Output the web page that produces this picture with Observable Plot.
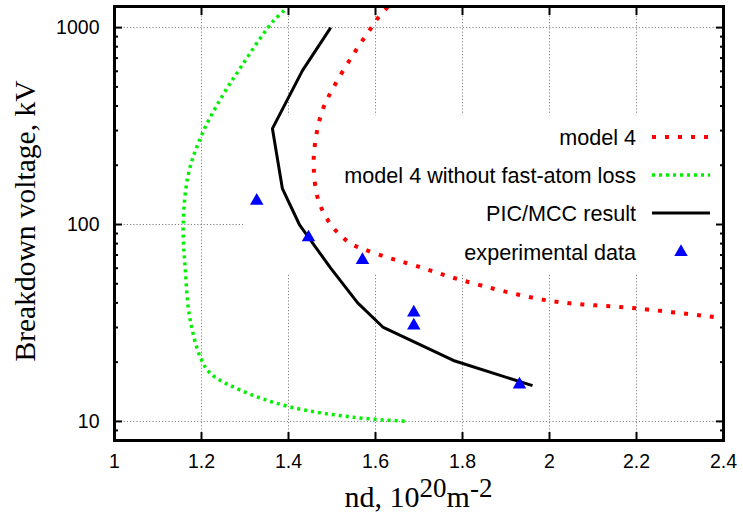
<!DOCTYPE html>
<html>
<head>
<meta charset="utf-8">
<script src="https://cdn.jsdelivr.net/npm/d3@7"></script>
<script src="https://cdn.jsdelivr.net/npm/@observablehq/plot@0.6"></script>
<style>
  html, body { margin: 0; padding: 0; background: #fff; }
  svg { display: block; }
</style>
</head>
<body>
<div id="chart"></div>
<script>
// ---- tick values / labels ----
const xTickValues = [1, 1.2, 1.4, 1.6, 1.8, 2, 2.2, 2.4];
const xTickLabels = ["1", "1.2", "1.4", "1.6", "1.8", "2", "2.2", "2.4"];
const xGridValues = [1.2, 1.4, 1.6, 1.8, 2, 2.2];
const yTickValues = [10, 100, 1000];
const yTickLabels = ["10", "100", "1000"];
const yMinorTicks = [8, 9, 20, 30, 40, 50, 60, 70, 80, 90, 200, 300, 400, 500, 600, 700, 800, 900];

// ---- series: model 4 (red dotted) ----
const model4X = [1.628, 1.607, 1.589, 1.547, 1.504, 1.478, 1.462, 1.458, 1.469, 1.497, 1.52, 1.543, 1.572, 1.628, 1.69, 1.80, 2.0, 2.2, 2.4];
const model4Y = [1270, 1130, 990, 720, 500, 380, 267, 194, 132, 100, 88, 80, 75, 68, 62, 52, 41, 37.5, 33.5];

// ---- series: model 4 without fast-atom loss (green dotted) ----
const noLossX = [1.39, 1.366, 1.336, 1.29, 1.251, 1.202, 1.170, 1.158, 1.163, 1.173, 1.198, 1.221, 1.29, 1.40, 1.549, 1.675];
const noLossY = [1220, 1086, 889, 627, 462, 290, 181, 100, 58, 33.7, 21, 17.5, 14.4, 11.9, 10.5, 10.0];

// ---- series: PIC/MCC result (black solid) ----
const picX = [1.497, 1.432, 1.363, 1.386, 1.425, 1.497, 1.559, 1.618, 1.779, 1.961];
const picY = [1000, 605, 307, 152, 100, 60, 40, 30, 20.4, 15.2];

// ---- series: experimental data (blue triangles) ----
const expX = [1.327, 1.446, 1.570, 1.688, 1.688, 1.931];
const expY = [132, 86, 66, 35.7, 30.7, 15.4];

// ---- legend ----
const legendLabels = ["model 4", "model 4 without fast-atom loss", "PIC/MCC result", "experimental data"];
const legendBox = {x1: 1.297, x2: 2.4, y1: 56.4, y2: 357};

const zip = (xs, ys) => xs.map((x, i) => ({x, y: ys[i]}));
const model4 = zip(model4X, model4Y);
const noLoss = zip(noLossX, noLossY);
const pic = zip(picX, picY);
const exp = zip(expX, expY);

const W = 743, H = 516;
const mL = 114, mR = 20, mT = 6, mB = 76;
const sans = "'Liberation Sans', Arial, Helvetica, sans-serif";
const serif = "'Liberation Serif', 'Times New Roman', serif";
const RED = "#ff0000", GREEN = "#00f000", BLUE = "#0000ff";

const gridStyle = {stroke: "#808080", strokeOpacity: 1, strokeWidth: 1, strokeDasharray: "1.2,2"};
const noText = {tickFormat: () => "", label: null, stroke: "black", strokeWidth: 2};

const plot = Plot.plot({
  width: W, height: H,
  marginLeft: mL, marginRight: mR, marginTop: mT, marginBottom: mB,
  style: {fontFamily: sans, fontSize: "19.5px", background: "white", color: "black"},
  x: {domain: [1, 2.4]},
  y: {type: "log", domain: [8.0, 1280]},
  marks: [
    Plot.gridX(xGridValues, gridStyle),
    Plot.gridY(yTickValues, gridStyle),
    Plot.rect([legendBox], {x1: "x1", x2: "x2", y1: "y1", y2: "y2", fill: "white"}),
    Plot.line(noLoss, {x: "x", y: "y", stroke: GREEN, strokeWidth: 3.5, strokeDasharray: "3,4", strokeLinecap: "butt", curve: "catmull-rom"}),
    Plot.line(model4, {x: "x", y: "y", stroke: RED, strokeWidth: 4, strokeDasharray: "4,9", strokeLinecap: "butt", curve: "catmull-rom"}),
    Plot.line(pic, {x: "x", y: "y", stroke: "black", strokeWidth: 3, strokeLinejoin: "miter", strokeLinecap: "butt"}),
    Plot.dot(exp, {x: "x", y: "y", symbol: "triangle", fill: BLUE, stroke: "none", r: 5}),
    // tick labels
    Plot.axisX(xTickValues, {anchor: "bottom", tickSize: 0, tickPadding: 14, label: null,
      tickFormat: d => xTickLabels[xTickValues.indexOf(d)]}),
    Plot.axisY(yTickValues, {anchor: "left", tickSize: 0, tickPadding: 15, label: null,
      tickFormat: d => yTickLabels[yTickValues.indexOf(d)]}),
    // inward ticks
    Plot.axisX(xTickValues, {anchor: "bottom", tickSize: -8, ...noText}),
    Plot.axisX(xTickValues, {anchor: "top", tickSize: -8, ...noText}),
    Plot.axisY(yTickValues, {anchor: "left", tickSize: -8, ...noText}),
    Plot.axisY(yTickValues, {anchor: "right", tickSize: -8, ...noText}),
    Plot.axisY(yMinorTicks, {anchor: "left", tickSize: -4, ...noText}),
    Plot.axisY(yMinorTicks, {anchor: "right", tickSize: -4, ...noText}),
    Plot.frame({stroke: "black", strokeWidth: 3})
  ]
});

document.getElementById("chart").appendChild(plot);

// ---- titles and legend (positioned relative to the frame) ----
const svg = d3.select(plot);
const frameRight = W - mR;

// y-axis title
svg.append("text")
  .attr("transform", `translate(35,${221}) rotate(-90)`)
  .attr("text-anchor", "middle")
  .style("font-family", serif).style("font-size", "29.5px").attr("fill", "black")
  .text("Breakdown voltage, kV");

// x-axis title with superscripts
const xt = svg.append("text")
  .attr("x", (mL + frameRight) / 2).attr("y", 507)
  .attr("text-anchor", "middle")
  .style("font-family", serif).style("font-size", "30px").attr("fill", "black");
xt.append("tspan").text("nd, 10");
xt.append("tspan").attr("dy", -10).style("font-size", "27px").text("20");
xt.append("tspan").attr("dy", 10).text("m");
xt.append("tspan").attr("dy", -10).style("font-size", "27px").text("-2");

// legend
const legRowY = [137, 175, 213, 252];
const legTextX = frameRight - 87;
const legS1 = frameRight - 71, legS2 = frameRight - 13;
const legStyles = [
  {stroke: RED, w: 4, dash: "4,9"},
  {stroke: GREEN, w: 3.5, dash: "3,4"},
  {stroke: "black", w: 3, dash: null}
];
const lg = svg.append("g");
legendLabels.forEach((lab, i) => {
  lg.append("text")
    .attr("x", legTextX).attr("y", legRowY[i]).attr("dy", "0.36em")
    .attr("text-anchor", "end")
    .style("font-family", sans).style("font-size", "21.6px").attr("fill", "black")
    .text(lab);
  if (i < 3) {
    const s = legStyles[i];
    lg.append("line")
      .attr("x1", legS1).attr("x2", legS2).attr("y1", legRowY[i]).attr("y2", legRowY[i])
      .attr("stroke", s.stroke).attr("stroke-width", s.w)
      .attr("stroke-dasharray", s.dash);
  } else {
    lg.append("path")
      .attr("transform", `translate(${(legS1 + legS2) / 2},${legRowY[i]})`)
      .attr("d", d3.symbol(d3.symbolTriangle, 25 * Math.PI)())
      .attr("fill", BLUE);
  }
});
</script>
</body>
</html>
